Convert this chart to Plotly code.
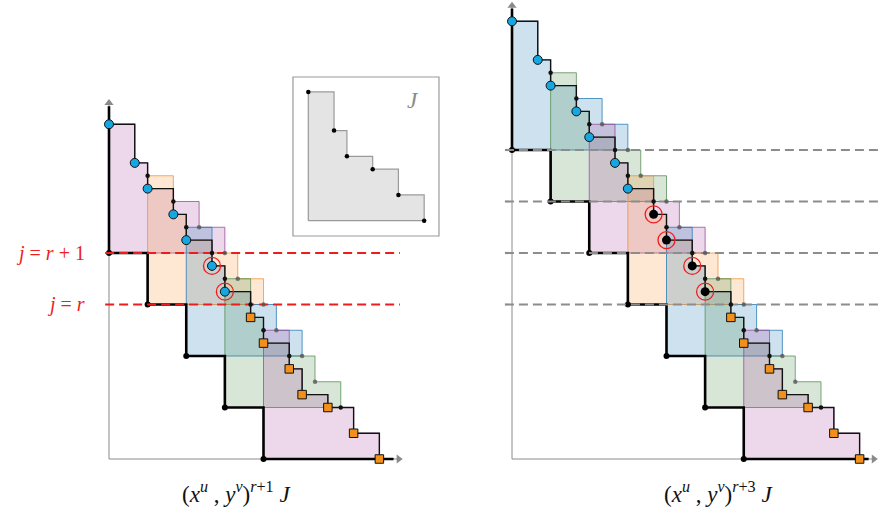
import plotly.graph_objects as go

W, H = 878, 510
UNIT = 12.875  # pixels per monomial exponent unit

# ---- data ----
J_X = [0, 2, 3, 5, 7, 9]
J_Y = [10, 7, 5, 4, 2, 0]

LEFT_OFF_X = [0, 3, 6, 9, 12]
LEFT_OFF_Y = [16, 12, 8, 4, 0]
LEFT_COLORS = ['pink', 'orange', 'blue', 'green', 'pink']

RIGHT_OFF_X = [0, 3, 6, 9, 12, 15, 18]
RIGHT_OFF_Y = [24, 20, 16, 12, 8, 4, 0]
RIGHT_COLORS = ['blue', 'green', 'pink', 'orange', 'blue', 'green', 'pink']

LEFT_MIN_X = [0, 2, 3, 5, 6, 8, 9, 11, 12, 14, 15, 17, 19, 21]
LEFT_MIN_Y = [26, 23, 21, 19, 17, 15, 13, 11, 9, 7, 5, 4, 2, 0]
LEFT_MIN_KIND = ['blue'] * 5 + ['blue_ring'] * 2 + ['orange'] * 7

RIGHT_MIN_X = [0, 2, 3, 5, 6, 8, 9, 11, 12, 14, 15, 17, 18, 20, 21, 23, 25, 27]
RIGHT_MIN_Y = [34, 31, 29, 27, 25, 23, 21, 19, 17, 15, 13, 11, 9, 7, 5, 4, 2, 0]
RIGHT_MIN_KIND = ['blue'] * 7 + ['black_ring'] * 4 + ['orange'] * 7

LEFT_EDGE_DOT_X = [3, 5, 6, 8, 9, 11, 12, 14, 18]
LEFT_EDGE_DOT_Y = [22, 20, 18, 16, 14, 12, 10, 8, 4]
LEFT_INNER_DOT_X = [7, 9, 10, 12, 13, 15, 16]
LEFT_INNER_DOT_Y = [18, 16, 14, 12, 10, 8, 6]

RIGHT_EDGE_DOT_X = [3, 5, 6, 8, 9, 11, 12, 14, 15, 17, 18, 20, 24]
RIGHT_EDGE_DOT_Y = [30, 28, 26, 24, 22, 20, 18, 16, 14, 12, 10, 8, 4]
RIGHT_INNER_DOT_X = [7, 9, 10, 12, 13, 15, 16, 18, 19, 21, 22]
RIGHT_INNER_DOT_Y = [26, 24, 22, 20, 18, 16, 14, 12, 10, 8, 6]

LEFT_LEVELS = [16, 12]
LEFT_LEVEL_LABELS = ['<i>j</i> = <i>r</i> + 1', '<i>j</i> = <i>r</i>']
RIGHT_LEVELS = [24, 20, 16, 12]

LEFT_CAPTION = '(<i>x</i><sup><i>u</i></sup> , <i>y</i><sup><i>v</i></sup>)<sup><i>r</i>+1</sup> <i>J</i>'
RIGHT_CAPTION = '(<i>x</i><sup><i>u</i></sup> , <i>y</i><sup><i>v</i></sup>)<sup><i>r</i>+3</sup> <i>J</i>'

# ---- styles ----
STYLE = {
    'pink':   dict(fill='rgba(160,60,150,0.20)', edge='rgba(150,70,150,0.75)'),
    'orange': dict(fill='rgba(250,140,40,0.20)', edge='rgba(240,150,60,0.80)'),
    'blue':   dict(fill='rgba(31,119,180,0.22)', edge='rgba(31,119,180,0.75)'),
    'green':  dict(fill='rgba(60,130,60,0.20)', edge='rgba(80,140,80,0.75)'),
}
BLUE_MK = '#16a6e0'
ORANGE_MK = '#f39019'
RED = '#ee1c1c'
AXIS_GREY = '#8a8a8a'
FONT = 'Liberation Serif'

# pixel origins of the three coordinate systems
LEFT_O = (109, 459)
RIGHT_O = (512, 459)
INSET_O = (308.3, 220.7)


def xr(o):
    return [-o[0] / UNIT, (W - o[0]) / UNIT]


def yr(o):
    return [-(H - o[1]) / UNIT, o[1] / UNIT]


def j_poly(ox, oy):
    xs, ys = [ox], [oy]
    for k in range(len(J_X)):
        xs.append(ox + J_X[k]); ys.append(oy + J_Y[k])
        if k + 1 < len(J_X):
            xs.append(ox + J_X[k + 1]); ys.append(oy + J_Y[k])
    xs.append(ox); ys.append(oy)
    return xs, ys


fig = go.Figure()
annotations = []


def diagram(xa, ya, offx, offy, colors, mx, my, kinds, ex, ey, ix, iy,
            top_thick, top_tip, right_thick, right_tip, levels, level_color, level_x0, level_x1):
    common = dict(xaxis=xa, yaxis=ya, showlegend=False, hoverinfo='skip')
    # thin grey axes
    fig.add_trace(go.Scatter(x=[0, 0, right_tip - 0.3], y=[top_tip - 0.3, 0, 0], mode='lines',
                             line=dict(color=AXIS_GREY, width=1), **common))
    # translated copies of J
    for ox, oy, c in zip(offx, offy, colors):
        px, py = j_poly(ox, oy)
        fig.add_trace(go.Scatter(x=px, y=py, mode='lines', fill='toself',
                                 fillcolor=STYLE[c]['fill'],
                                 line=dict(color=STYLE[c]['edge'], width=1), **common))
    # staircase of the product
    sx, sy = [], []
    for i in range(len(mx)):
        sx.append(mx[i]); sy.append(my[i])
        if i + 1 < len(mx):
            sx.append(mx[i + 1]); sy.append(my[i])
    fig.add_trace(go.Scatter(x=sx, y=sy, mode='lines', line=dict(color='#111', width=1.4), **common))
    # thick staircase of the power ideal
    tx, ty = [0], [top_thick]
    for i in range(len(offx)):
        tx.append(offx[i]); ty.append(offy[i])
        if i + 1 < len(offx):
            tx.append(offx[i + 1]); ty.append(offy[i])
    tx.append(right_thick); ty.append(0)
    fig.add_trace(go.Scatter(x=tx, y=ty, mode='lines', line=dict(color='#000', width=2.6), **common))
    # arrowheads
    fig.add_trace(go.Scatter(x=[0], y=[top_tip - 0.3], mode='markers',
                             marker=dict(symbol='triangle-up', size=8, color=AXIS_GREY), **common))
    fig.add_trace(go.Scatter(x=[right_tip - 0.3], y=[0], mode='markers',
                             marker=dict(symbol='triangle-right', size=8, color=AXIS_GREY), **common))
    # generators of the power ideal
    fig.add_trace(go.Scatter(x=offx, y=offy, mode='markers',
                             marker=dict(color='#000', size=6), **common))
    # level dashed lines
    for lv in levels:
        fig.add_trace(go.Scatter(x=[level_x0, level_x1], y=[lv, lv], mode='lines',
                                 line=dict(color=level_color, width=2.2, dash='9px,5px'), **common))
    # small dots
    fig.add_trace(go.Scatter(x=ix, y=iy, mode='markers',
                             marker=dict(color='rgba(80,80,80,0.75)', size=4.5), **common))
    fig.add_trace(go.Scatter(x=ex, y=ey, mode='markers',
                             marker=dict(color='#111', size=4.5), **common))

    # minimal generators
    def pick(kset):
        return ([x for x, k in zip(mx, kinds) if k in kset], [y for y, k in zip(my, kinds) if k in kset])
    bx, by = pick({'blue', 'blue_ring'})
    fig.add_trace(go.Scatter(x=bx, y=by, mode='markers',
                             marker=dict(color=BLUE_MK, size=9, line=dict(color='#111', width=1)), **common))
    kx, ky = pick({'black_ring'})
    if kx:
        fig.add_trace(go.Scatter(x=kx, y=ky, mode='markers',
                                 marker=dict(color='#000', size=9), **common))
    ox_, oy_ = pick({'orange'})
    fig.add_trace(go.Scatter(x=ox_, y=oy_, mode='markers',
                             marker=dict(color=ORANGE_MK, size=8.5, symbol='square',
                                         line=dict(color='#111', width=1)), **common))
    rx, ry = pick({'blue_ring', 'black_ring'})
    fig.add_trace(go.Scatter(x=rx, y=ry, mode='markers',
                             marker=dict(color=RED, size=17, symbol='circle-open',
                                         line=dict(color=RED, width=1.3)), **common))


diagram('x', 'y', LEFT_OFF_X, LEFT_OFF_Y, LEFT_COLORS, LEFT_MIN_X, LEFT_MIN_Y, LEFT_MIN_KIND,
        LEFT_EDGE_DOT_X, LEFT_EDGE_DOT_Y, LEFT_INNER_DOT_X, LEFT_INNER_DOT_Y,
        27.4, 27.96, 22.1, 22.8, LEFT_LEVELS, RED, -0.3, 22.6)
diagram('x2', 'y', RIGHT_OFF_X, RIGHT_OFF_Y, RIGHT_COLORS, RIGHT_MIN_X, RIGHT_MIN_Y, RIGHT_MIN_KIND,
        RIGHT_EDGE_DOT_X, RIGHT_EDGE_DOT_Y, RIGHT_INNER_DOT_X, RIGHT_INNER_DOT_Y,
        35.0, 35.5, 27.7, 28.4, RIGHT_LEVELS, '#8c8c8c', -0.55, 28.5)

# ---- inset J ----
px, py = j_poly(0, 0)
fig.add_trace(go.Scatter(x=px, y=py, mode='lines', fill='toself', fillcolor='#e4e4e4',
                         line=dict(color='#9a9a9a', width=1.2), xaxis='x3', yaxis='y3',
                         showlegend=False, hoverinfo='skip'))
fig.add_trace(go.Scatter(x=J_X, y=J_Y, mode='markers', marker=dict(color='#000', size=4.5),
                         xaxis='x3', yaxis='y3', showlegend=False, hoverinfo='skip'))
annotations.append(dict(x=8.15, y=9.3, xref='x3', yref='y3', text='<i>J</i>', showarrow=False,
                        xanchor='center', yanchor='middle',
                        font=dict(family=FONT, size=23, color='#8a8a8a')))

# level labels
for lv, lab in zip(LEFT_LEVELS, LEFT_LEVEL_LABELS):
    annotations.append(dict(x=-1.7, y=lv, xref='x', yref='y', text=lab, showarrow=False,
                            xanchor='right', yanchor='middle',
                            font=dict(family=FONT, size=20, color=RED)))

# captions
annotations.append(dict(x=236 / W, y=1 - 492 / H, xref='paper', yref='paper', text=LEFT_CAPTION,
                        xanchor='center', yanchor='middle',
                        showarrow=False, font=dict(family=FONT, size=23, color='#111')))
annotations.append(dict(x=718 / W, y=1 - 492 / H, xref='paper', yref='paper', text=RIGHT_CAPTION,
                        xanchor='center', yanchor='middle',
                        showarrow=False, font=dict(family=FONT, size=23, color='#111')))

hidden = dict(visible=False, showgrid=False, zeroline=False, fixedrange=True)
fig.update_layout(
    width=W, height=H, margin=dict(l=0, r=0, t=0, b=0),
    paper_bgcolor='white', plot_bgcolor='rgba(0,0,0,0)',
    xaxis=dict(range=xr(LEFT_O), domain=[0, 1], **hidden),
    yaxis=dict(range=yr(LEFT_O), domain=[0, 1], **hidden),
    xaxis2=dict(range=xr(RIGHT_O), overlaying='x', anchor='y', **hidden),
    xaxis3=dict(range=xr(INSET_O), overlaying='x', anchor='y3', **hidden),
    yaxis3=dict(range=yr(INSET_O), overlaying='y', anchor='x3', **hidden),
    annotations=annotations,
    shapes=[dict(type='rect', xref='x3', yref='y3', x0=-1.19, x1=10.15, y0=-1.19, y1=11.16,
                 line=dict(color='#999', width=1.2), fillcolor='white', layer='below')],
)

fig.write_html('out.html', config={'displayModeBar': False},
               post_script="document.body.style.margin='0';")
